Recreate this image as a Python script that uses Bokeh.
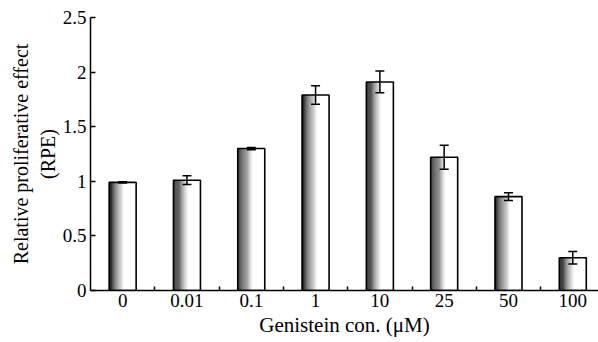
from bokeh.plotting import figure
from bokeh.models import FixedTicker, Whisker, ColumnDataSource, Range1d, TeeHead
from bokeh.embed import file_html
from bokeh.resources import INLINE
from bokeh.transform import dodge

# ---- data ----
concentrations = ["0", "0.01", "0.1", "1", "10", "25", "50", "100"]
rpe = [0.99, 1.01, 1.30, 1.79, 1.91, 1.22, 0.86, 0.30]
rpe_err = [0.005, 0.04, 0.01, 0.085, 0.10, 0.11, 0.035, 0.057]
y_ticks = [0, 0.5, 1, 1.5, 2, 2.5]
y_tick_labels = ["0", "0.5", "1", "1.5", "2", "2.5"]

xs = list(range(len(concentrations)))
src = ColumnDataSource(dict(
    x=xs, top=rpe,
    upper=[v + e for v, e in zip(rpe, rpe_err)],
    lower=[v - e for v, e in zip(rpe, rpe_err)],
))

FONT = "Liberation Serif"

p = figure(width=598, height=342, output_backend="svg", toolbar_location=None,
           x_range=Range1d(-0.5, 7.4), y_range=Range1d(0, 2.5),
           min_border_left=90, min_border_right=0, min_border_top=17,
           min_border_bottom=52)
p.outline_line_color = None
p.xgrid.visible = False
p.ygrid.visible = False
p.background_fill_color = "white"

# bars: shaded left part (dark -> white) built from thin strips, then outline
bw = 0.42
n_strips = 16
shade_frac = 0.55
sw = bw * shade_frac / n_strips
for k in range(n_strips):
    t = (k + 0.5) / n_strips
    g = int(15 + 240 * (t ** 1.1))
    g = min(g, 252)
    col = "#%02x%02x%02x" % (g, g, g)
    off = -bw / 2 + (k + 0.5) * sw
    p.vbar(x=dodge("x", off), width=sw * 1.08, top="top", bottom=0, source=src,
           fill_color=col, line_color=None)
p.vbar(x="x", width=bw, top="top", bottom=0, source=src,
       fill_color=None, line_color="black", line_width=1.6)

w = Whisker(base="x", upper="upper", lower="lower", source=src,
            line_color="black", line_width=1.5, level="overlay",
            upper_head=TeeHead(size=9, line_width=1.5, line_color="black"),
            lower_head=TeeHead(size=9, line_width=1.5, line_color="black"))
p.add_layout(w)

# x axis
p.xaxis.ticker = FixedTicker(ticks=xs, minor_ticks=[i + 0.5 for i in xs])
p.xaxis.major_label_overrides = {i: c for i, c in zip(xs, concentrations)}
p.xaxis.major_tick_in = 0
p.xaxis.major_tick_out = 0
p.xaxis.minor_tick_in = 4
p.xaxis.minor_tick_out = 0
p.xaxis.minor_tick_line_width = 1.5
p.xaxis.axis_label = "Genistein con. (\u03bcM)"
p.xaxis.major_label_standoff = 3
p.xaxis.axis_label_standoff = 3

# y axis
p.yaxis.ticker = FixedTicker(ticks=y_ticks, minor_ticks=[])
p.yaxis.major_label_overrides = {v: s for v, s in zip(y_ticks, y_tick_labels)}
p.yaxis.major_tick_in = 5
p.yaxis.major_tick_out = 0
p.yaxis.major_tick_line_width = 1.5
p.yaxis.axis_label = "Relative proliferative effect\n(RPE)"
p.yaxis.major_label_standoff = 4
p.yaxis.axis_label_standoff = 1

for ax in (p.xaxis[0], p.yaxis[0]):
    ax.axis_line_width = 1.5
    ax.axis_line_color = "black"
    ax.major_tick_line_color = "black"
    ax.minor_tick_line_color = "black"
    ax.major_label_text_font = FONT
    ax.major_label_text_font_size = "19px"
    ax.major_label_text_color = "black"
    ax.axis_label_text_font = FONT
    ax.axis_label_text_font_size = "20px"
    ax.axis_label_text_font_style = "normal"
    ax.axis_label_text_color = "black"
p.xaxis.axis_label_text_font_size = "21px"

open("out.html", "w").write(file_html(p, INLINE))
